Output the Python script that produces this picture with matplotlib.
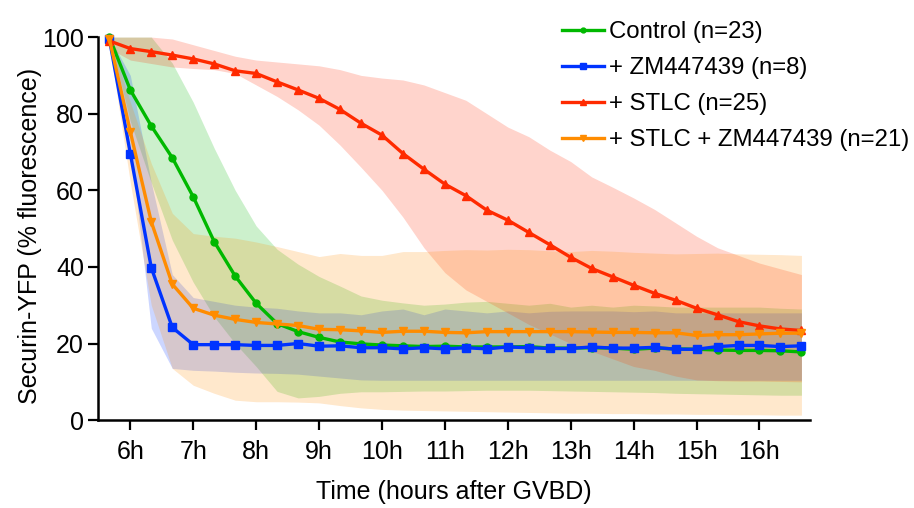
import matplotlib
matplotlib.use("Agg")
import matplotlib.pyplot as plt

plt.rcParams["font.family"] = ["Liberation Sans", "DejaVu Sans"]

# Time points (hours after GVBD), one every 20 min
hours = [5.667, 6.0, 6.333, 6.667, 7.0, 7.333, 7.667, 8.0, 8.333, 8.667,
         9.0, 9.333, 9.667, 10.0, 10.333, 10.667, 11.0, 11.333, 11.667, 12.0,
         12.333, 12.667, 13.0, 13.333, 13.667, 14.0, 14.333, 14.667, 15.0, 15.333,
         15.667, 16.0, 16.333, 16.667]

# Control (n=23)
ctrl_mean = [100, 86.2, 76.8, 68.5, 58.3, 46.6, 37.6, 30.5, 25.2, 23.1,
             21.6, 20.4, 19.9, 19.6, 19.4, 19.2, 19.3, 19.1, 19.1, 19.1,
             19.2, 18.8, 18.8, 18.9, 18.8, 18.5, 18.8, 18.6, 18.5, 18.3,
             18.2, 18.2, 18.1, 17.8]
ctrl_hi = [100, 100, 100, 93.2, 83, 71, 60, 50.7, 44.6, 40.7,
           37.5, 35, 32.4, 31.3, 30.6, 30, 30.3, 30.8, 31, 30.5,
           30, 30.5, 29.5, 30, 29.5, 30, 29.8, 29.5, 29.5, 29.5,
           29.5, 29.5, 29.2, 29]
ctrl_lo = [100, 78, 62, 47, 36, 27, 20, 14, 7.5, 5.8,
           6.2, 7, 7.4, 7.4, 7.5, 7.6, 7.6, 7.7, 7.8, 7.8,
           7.8, 7.7, 7.6, 7.5, 7.4, 7.3, 7.2, 7.0, 6.9, 6.8,
           6.7, 6.6, 6.5, 6.5]

# + ZM447439 (n=8)
zm_mean = [99.5, 69.6, 39.8, 24.2, 19.7, 19.7, 19.7, 19.5, 19.5, 20.0,
           19.3, 19.4, 18.9, 18.9, 18.6, 18.9, 18.6, 18.9, 18.6, 19.1,
           18.9, 18.7, 18.7, 19.1, 18.8, 18.8, 19.0, 18.5, 18.5, 19.2,
           19.5, 19.5, 19.2, 19.4]
zm_hi = [100, 90, 62, 38, 32, 31, 30, 29.5, 29.2, 28.5,
         28, 28, 27.5, 28.5, 29, 27.5, 29, 28.5, 28, 28.5,
         28, 28.4, 28.5, 28.5, 28.5, 28.3, 28.5, 28, 28, 28,
         28, 28, 28, 28]
zm_lo = [98, 72, 24, 13.5, 13, 12.8, 12.5, 12.3, 12.2, 12,
         11.5, 11, 10.5, 10.4, 10.4, 10.4, 10.4, 10.4, 10.4, 10.4,
         10.4, 10.4, 10.4, 10.4, 10.4, 10.4, 10.4, 10.4, 10.4, 10.4,
         10.4, 10.4, 10.4, 10.4]

# + STLC (n=25)
stlc_mean = [99.0, 97.0, 96.2, 95.3, 94.3, 93.0, 91.2, 90.5, 88.3, 86.2,
             84.0, 81.1, 77.5, 74.4, 69.6, 65.5, 61.6, 58.6, 54.8, 52.2,
             49.0, 45.8, 42.5, 39.6, 37.4, 35.2, 33.1, 31.3, 29.2, 27.5,
             25.7, 24.6, 23.8, 23.4]
stlc_hi = [100, 100, 100, 99.5, 98, 96.5, 95, 94, 93.5, 93,
           92.5, 91.5, 90, 89.3, 88.8, 87.5, 85.5, 83.5, 80, 76.5,
           74, 70.5, 67.5, 63.5, 60.8, 58, 55, 51.5, 48, 45,
           43, 41, 39.5, 38]
stlc_lo = [97, 94, 93.1, 92.2, 91.8, 91.5, 90.5, 87.5, 84.5, 81,
           77, 71.8, 66, 60, 53, 45, 38.5, 34, 31, 28,
           25, 22.5, 20, 18, 16, 14, 13, 11.5, 10.5, 10.3,
           10.2, 10.2, 10.1, 10]

# + STLC + ZM447439 (n=21)
both_mean = [99.5, 75.3, 51.8, 35.5, 29.2, 27.4, 26.3, 25.5, 25.1, 24.7,
             23.7, 23.6, 23.3, 22.9, 23.2, 23.2, 22.9, 22.8, 23.1, 23.1,
             23.1, 23.1, 23.1, 23.0, 22.9, 22.9, 22.8, 22.8, 22.1, 22.3,
             22.3, 22.5, 22.7, 22.7]
both_hi = [100, 83, 67, 54, 48.7, 48, 47.5, 46.5, 45.3, 44,
           42.7, 43.5, 43, 43, 44, 44, 44.3, 44.5, 44.4, 44.6,
           44.5, 44.2, 44, 44.3, 44.1, 43.8, 43.6, 43.4, 43.5, 43.6,
           43.4, 43.3, 43.2, 43]
both_lo = [98, 62, 30, 13.5, 9.1, 7, 5.2, 4.8, 4.8, 4.7,
           4.5, 3.8, 3.2, 2.8, 2.6, 2.5, 2.4, 2.3, 2.2, 2.1,
           2.0, 1.9, 1.8, 1.8, 1.7, 1.7, 1.6, 1.6, 1.5, 1.5,
           1.4, 1.4, 1.3, 1.3]

xtick_hours = [6, 7, 8, 9, 10, 11, 12, 13, 14, 15, 16]
xtick_labels = ["6h", "7h", "8h", "9h", "10h", "11h", "12h", "13h", "14h", "15h", "16h"]

series = [
    ("Control (n=23)", ctrl_mean, ctrl_lo, ctrl_hi, "#00b800", "o", 5.0),
    ("+ ZM447439 (n=8)", zm_mean, zm_lo, zm_hi, "#0033ff", "s", 5.6),
    ("+ STLC (n=25)", stlc_mean, stlc_lo, stlc_hi, "#ff2a00", "^", 6.0),
    ("+ STLC + ZM447439 (n=21)", both_mean, both_lo, both_hi, "#ff8c00", "v", 6.0),
]

fig = plt.figure(figsize=(9.14, 5.08), dpi=100)
ax = fig.add_axes([0.107, 0.173, 0.779, 0.754])

# shaded spread first, then the lines on top
for name, m, lo, hi, col, mk, ms in series:
    ax.fill_between(hours, lo, hi, color=col, alpha=0.2, linewidth=0, zorder=1)

for name, m, lo, hi, col, mk, ms in series:
    ax.plot(hours, m, color=col, marker=mk, markersize=ms, linewidth=2.4,
            label=name, clip_on=False, zorder=3)

ax.set_xlim(5.483, 16.80)
ax.set_ylim(0, 100)
ax.set_xticks(xtick_hours)
ax.set_xticklabels(xtick_labels)
ax.set_yticks([0, 20, 40, 60, 80, 100])

for s in ["top", "right"]:
    ax.spines[s].set_visible(False)
for s in ["left", "bottom"]:
    ax.spines[s].set_linewidth(1.8)
ax.tick_params(direction="out", length=7, width=1.6, labelsize=18)
ax.tick_params(axis="x", pad=7)
ax.tick_params(axis="y", pad=3)

ax.set_xlabel("Time (hours after GVBD)", fontsize=18, labelpad=12)
ax.set_ylabel("Securin-YFP (% fluorescence)", fontsize=18)
ax.yaxis.set_label_coords(-0.078, 0.48)

fig.legend(loc="upper left", bbox_to_anchor=(0.615, 0.958), frameon=False,
           fontsize=17.3, handlelength=1.75, handletextpad=0.22,
           labelspacing=0.58, borderpad=0, borderaxespad=0, markerscale=0.7)

fig.savefig("out.png", dpi=100)
